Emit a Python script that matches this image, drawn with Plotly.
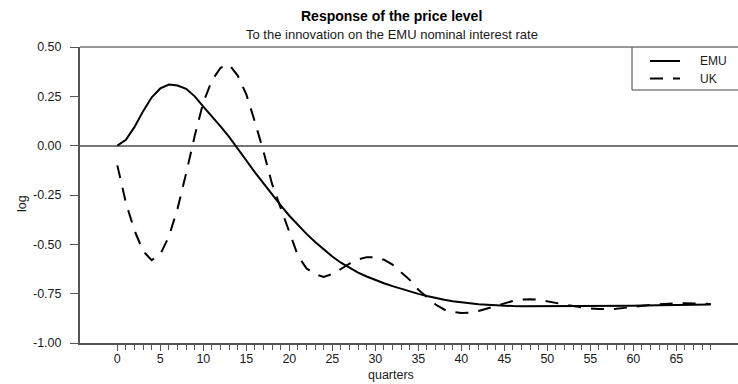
import plotly.graph_objects as go

# Impulse responses over 70 quarters
quarters = list(range(70))

emu_response = [
    0.000, 0.030, 0.095, 0.175, 0.245, 0.290, 0.310, 0.305, 0.288, 0.250,
    0.198, 0.150, 0.098, 0.045, -0.012, -0.075, -0.135, -0.192, -0.250, -0.303,
    -0.355, -0.402, -0.447, -0.488, -0.527, -0.562, -0.593, -0.620, -0.643, -0.663,
    -0.681, -0.697, -0.712, -0.726, -0.739, -0.751, -0.762, -0.772, -0.781, -0.788,
    -0.794, -0.799, -0.803, -0.806, -0.809, -0.811, -0.813, -0.814, -0.814, -0.814,
    -0.814, -0.814, -0.814, -0.814, -0.814, -0.814, -0.813, -0.813, -0.812, -0.812,
    -0.811, -0.810, -0.809, -0.808, -0.808, -0.807, -0.807, -0.806, -0.806, -0.805,
]

uk_response = [
    -0.100, -0.290, -0.430, -0.535, -0.580, -0.550, -0.460, -0.320, -0.140, 0.050,
    0.220, 0.330, 0.395, 0.410, 0.355, 0.260, 0.120, -0.030, -0.195, -0.315,
    -0.445, -0.558, -0.622, -0.652, -0.665, -0.650, -0.625, -0.598, -0.577, -0.565,
    -0.565, -0.578, -0.603, -0.640, -0.680, -0.730, -0.770, -0.805, -0.830, -0.843,
    -0.848, -0.846, -0.838, -0.825, -0.812, -0.798, -0.787, -0.780, -0.778, -0.781,
    -0.788, -0.796, -0.805, -0.813, -0.820, -0.825, -0.828, -0.829, -0.827, -0.822,
    -0.816, -0.811, -0.807, -0.804, -0.801, -0.799, -0.799, -0.800, -0.801, -0.802,
]

series_names = ["EMU", "UK"]

x_major_ticks = list(range(0, 70, 5))
x_tick_labels = [str(v) for v in x_major_ticks]
y_ticks = [-1.0, -0.75, -0.5, -0.25, 0.0, 0.25, 0.5]
y_tick_labels = ["-1.00", "-0.75", "-0.50", "-0.25", "0.00", "0.25", "0.50"]

title_text = "Response of the price level"
subtitle_text = "To the innovation on the EMU nominal interest rate"
x_title = "quarters"
y_title = "log"

FONT = "Liberation Sans, Arial, sans-serif"
TEXT = "#1a1a1a"
AXIS = "#555555"
UK_DASH = "13px,10px"

W, H = 738, 384
ML, MR, MT, MB = 80, 0, 47, 41
PW, PH = W - ML - MR, H - MT - MB


def px(xp):
    return (xp - ML) / PW


def py(yp):
    return (H - MB - yp) / PH


fig = go.Figure()
fig.add_trace(go.Scatter(
    x=quarters, y=emu_response, name=series_names[0], mode="lines",
    line=dict(color="black", width=2), showlegend=False,
))
fig.add_trace(go.Scatter(
    x=quarters, y=uk_response, name=series_names[1], mode="lines",
    line=dict(color="black", width=2, dash=UK_DASH), showlegend=False,
))

shapes = [
    # top frame line
    dict(type="line", xref="paper", yref="paper", x0=0, x1=1.01, y0=1, y1=1,
         line=dict(color="#333333", width=1.2)),
    # legend box (left and bottom edges; right edge runs off the page)
    dict(type="line", xref="paper", yref="paper", x0=px(632), x1=px(632), y0=1, y1=py(90),
         line=dict(color="#444444", width=1)),
    dict(type="line", xref="paper", yref="paper", x0=px(632), x1=1.01, y0=py(90), y1=py(90),
         line=dict(color="#444444", width=1)),
    # legend samples
    dict(type="line", xref="paper", yref="paper", x0=px(650), x1=px(680), y0=py(61), y1=py(61),
         line=dict(color="black", width=2)),
    dict(type="line", xref="paper", yref="paper", x0=px(650), x1=px(680), y0=py(78.5), y1=py(78.5),
         line=dict(color="black", width=2, dash=UK_DASH)),
]

annotations = [
    dict(text="<b>" + title_text + "</b>", xref="paper", yref="paper",
         x=px(391), y=py(15.5), xanchor="center", yanchor="middle", showarrow=False,
         font=dict(family=FONT, size=14, color="black")),
    dict(text=subtitle_text, xref="paper", yref="paper",
         x=px(392), y=py(35), xanchor="center", yanchor="middle", showarrow=False,
         font=dict(family=FONT, size=13, color=TEXT)),
    dict(text=x_title, xref="paper", yref="paper",
         x=px(391), y=py(375), xanchor="center", yanchor="middle", showarrow=False,
         font=dict(family=FONT, size=12.5, color=TEXT)),
    dict(text=y_title, xref="paper", yref="paper", textangle=-90,
         x=px(22), y=py(204), xanchor="center", yanchor="middle", showarrow=False,
         font=dict(family=FONT, size=12.5, color=TEXT)),
    dict(text=series_names[0], xref="paper", yref="paper",
         x=px(698), y=py(61), xanchor="left", yanchor="middle", showarrow=False,
         font=dict(family=FONT, size=12, color=TEXT)),
    dict(text=series_names[1], xref="paper", yref="paper",
         x=px(698), y=py(78.5), xanchor="left", yanchor="middle", showarrow=False,
         font=dict(family=FONT, size=12, color=TEXT)),
]

fig.update_layout(
    width=W, height=H,
    margin=dict(l=ML, r=MR, t=MT, b=MB, pad=0),
    paper_bgcolor="white", plot_bgcolor="white",
    font=dict(family=FONT, size=12, color=TEXT),
    shapes=shapes, annotations=annotations,
    xaxis=dict(
        range=[-4.34, 72.17], showgrid=False, zeroline=False,
        showline=True, linecolor=AXIS, linewidth=1.5,
        tickmode="array", tickvals=x_major_ticks, ticktext=x_tick_labels,
        ticks="outside", ticklen=6, tickwidth=1, tickcolor=AXIS,
        ticklabelstandoff=-3,
        tickfont=dict(family=FONT, size=12.5, color=TEXT),
        minor=dict(tickmode="array", tickvals=quarters, ticks="outside",
                   ticklen=5, tickwidth=1, tickcolor=AXIS, showgrid=False),
    ),
    yaxis=dict(
        range=[-1.0, 0.5], showgrid=False,
        zeroline=True, zerolinecolor="#777777", zerolinewidth=1.5,
        showline=True, linecolor=AXIS, linewidth=2,
        tickmode="array", tickvals=y_ticks, ticktext=y_tick_labels,
        ticks="outside", ticklen=8, tickwidth=1, tickcolor=AXIS,
        ticklabelstandoff=6,
        tickfont=dict(family=FONT, size=12.5, color=TEXT),
    ),
)

fig.write_html("out.html")
